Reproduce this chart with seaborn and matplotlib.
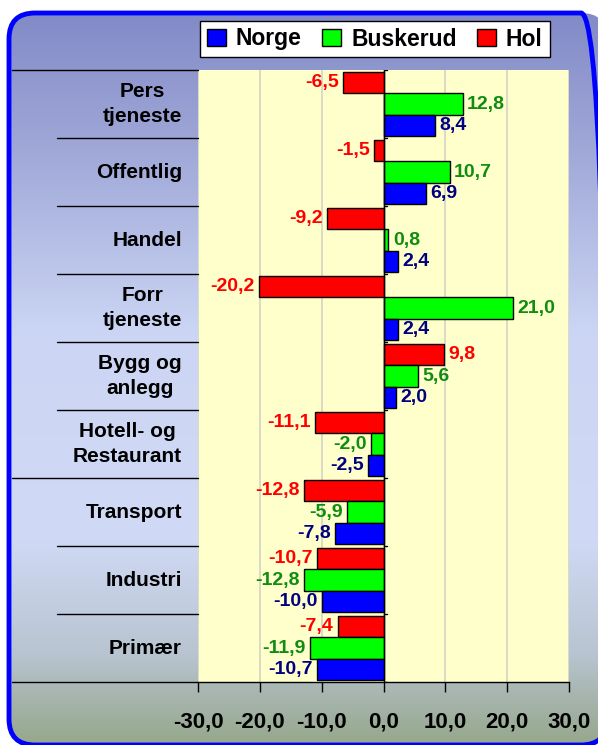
import numpy as np
import pandas as pd
import matplotlib.pyplot as plt
import seaborn as sns
from matplotlib.patches import FancyBboxPatch, Patch
from matplotlib.colors import LinearSegmentedColormap
import matplotlib.transforms as mtransforms

# Data
categories = ["Pers\ntjeneste", "Offentlig", "Handel", "Forr\ntjeneste", "Bygg og\nanlegg",
              "Hotell- og\nRestaurant", "Transport", "Industri", "Primær"]
hol = [-6.5, -1.5, -9.2, -20.2, 9.8, -11.1, -12.8, -10.7, -7.4]
buskerud = [12.8, 10.7, 0.8, 21.0, 5.6, -2.0, -5.9, -12.8, -11.9]
norge = [8.4, 6.9, 2.4, 2.4, 2.0, -2.5, -7.8, -10.0, -10.7]
series = ["Hol", "Buskerud", "Norge"]
xticks = [-30, -20, -10, 0, 10, 20, 30]

colors = {"Norge": "#0000FF", "Buskerud": "#00FF00", "Hol": "#FF0000"}
label_colors = {"Norge": "#000080", "Buskerud": "#108C10", "Hol": "#FF0000"}

df = pd.DataFrame({
    "kategori": categories * 3,
    "serie": ["Hol"] * 9 + ["Buskerud"] * 9 + ["Norge"] * 9,
    "verdi": hol + buskerud + norge,
})

sns.set_theme(style="white")
plt.rcParams["font.family"] = ["Liberation Sans", "DejaVu Sans"]
plt.rcParams["font.weight"] = "bold"
plt.rcParams["text.color"] = "black"
plt.rcParams["xtick.color"] = "black"
plt.rcParams["xtick.labelcolor"] = "black"

W, H = 598, 745
fig = plt.figure(figsize=(W / 100, H / 100), dpi=100)
fig.patch.set_facecolor("white")

# background frame with gradient
bg = fig.add_axes([0, 0, 1, 1], zorder=-5)
bg.set_xlim(0, W)
bg.set_ylim(0, H)
bg.axis("off")
grad_cmap = LinearSegmentedColormap.from_list("bg", [
    (0.0, "#96A88C"), (0.06, "#A6B4AC"), (0.12, "#B8C4D0"), (0.28, "#D0DAF6"),
    (0.55, "#CCD6F4"), (0.80, "#A0A8D8"), (1.0, "#8088C6")])
grad = np.linspace(0, 1, 256).reshape(-1, 1)
img = bg.imshow(grad, aspect="auto", cmap=grad_cmap, origin="lower",
                extent=[0, W, 0, H], zorder=0)
frame = FancyBboxPatch((9, 0), 598, 732, boxstyle="round,pad=0,rounding_size=26",
                       facecolor="none", edgecolor="#0000FF", linewidth=3.5, zorder=2,
                       clip_on=False)
bg.add_patch(frame)
img.set_clip_path(frame)

# main axes
ax = fig.add_axes([198 / W, 63 / H, 371 / W, 612 / H])
ax.set_facecolor("#FFFFCC")
sns.barplot(data=df, y="kategori", x="verdi", hue="serie", hue_order=series,
            palette=colors, saturation=1, orient="h", width=0.93, edgecolor="black",
            linewidth=1, legend=False, ax=ax, zorder=3)

ax.set_xlim(-30, 30)
ax.set_ylim(len(categories) - 0.5, -0.5)
ax.set_xticks(xticks)
ax.set_xticklabels([f"{t:.1f}".replace(".", ",") for t in xticks], fontsize=16,
                   fontweight="bold", color="black")
ax.tick_params(axis="x", direction="out", length=7, width=1, color="black", pad=14, bottom=True)
ax.grid(axis="x", color="#D4D4C4", linewidth=1.2, zorder=0)
ax.set_xlabel("")
ax.set_ylabel("")
ax.set_yticks([])
for s in ["top", "right", "left"]:
    ax.spines[s].set_visible(False)
ax.spines["bottom"].set_color("black")
ax.spines["bottom"].set_linewidth(1)
ax.axvline(0, color="black", linewidth=1, zorder=4)

# value labels
for cont, name in zip(ax.containers, series):
    for bar in cont:
        w = bar.get_width()
        yc = bar.get_y() + bar.get_height() / 2
        txt = f"{w:.1f}".replace(".", ",")
        ax.text(w + (0.7 if w >= 0 else -0.7), yc, txt, ha="left" if w >= 0 else "right",
                va="center", fontsize=14, fontweight="bold", color=label_colors[name], zorder=5)

# category labels and separators in the label area
trans = mtransforms.blended_transform_factory(fig.transFigure, ax.transData)
for i, cat in enumerate(categories):
    ax.text(182 / W, i, cat, transform=trans, ha="right", va="center", multialignment="center",
            fontsize=15, fontweight="bold", color="black", linespacing=1.35, clip_on=False)
for b in np.arange(-0.5, len(categories), 1.0):
    x0 = 12 / W if b in (-0.5, 5.5, len(categories) - 0.5) else 57 / W
    ax.plot([x0, 198 / W], [b, b], transform=trans, color="black", linewidth=1, clip_on=False)
    ax.plot([0, 0.5], [b, b], color="black", linewidth=1, zorder=4)

# legend
handles = [Patch(facecolor=colors[n], edgecolor="black", label=n) for n in ["Norge", "Buskerud", "Hol"]]
leg = fig.legend(handles=handles, loc="center", bbox_to_anchor=(375 / W, 1 - 39 / H), ncol=3,
                 frameon=True, fancybox=False, edgecolor="black", framealpha=1,
                 prop={"size": 16.5, "weight": "bold"}, handlelength=0.8, handleheight=0.8,
                 handletextpad=0.45, columnspacing=0.9, borderpad=0.3, borderaxespad=0)
leg.get_frame().set_linewidth(1)

fig.savefig("out.png", dpi=100)
